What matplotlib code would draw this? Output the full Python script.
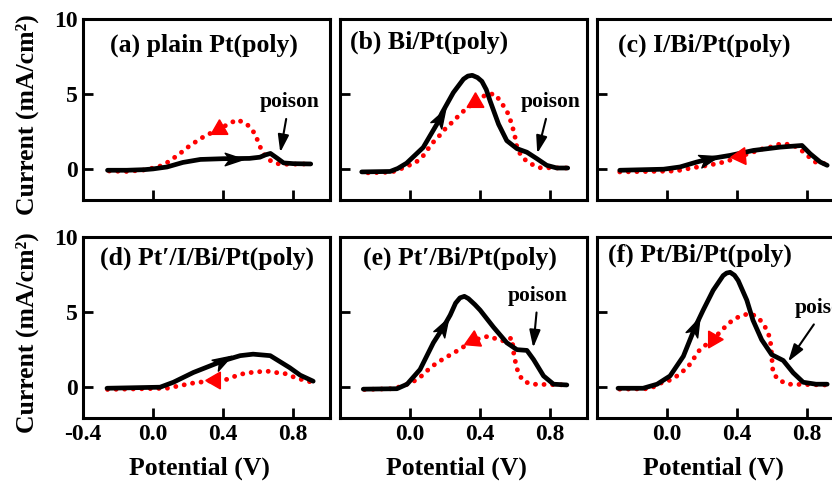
import numpy as np
import matplotlib
matplotlib.use('Agg')
import matplotlib.pyplot as plt
from matplotlib.path import Path

plt.rcParams['font.family'] = ['Liberation Serif', 'DejaVu Serif']
plt.rcParams['font.weight'] = 'bold'

# ---- data (potential in V, current in mA/cm2) ----
titles = ['(a) plain Pt(poly)', '(b) Bi/Pt(poly)', '(c) I/Bi/Pt(poly)',
          "(d) Pt\u2032/I/Bi/Pt(poly)", "(e) Pt\u2032/Bi/Pt(poly)", '(f) Pt/Bi/Pt(poly)']

fwd_a_v = [-0.26, -0.15, -0.05, 0.0, 0.08, 0.17, 0.27, 0.4, 0.55, 0.61, 0.64, 0.67, 0.71, 0.745, 0.8, 0.9]
fwd_a_i = [-0.07, -0.07, -0.03, 0.02, 0.15, 0.45, 0.65, 0.7, 0.72, 0.8, 0.95, 1.05, 0.72, 0.42, 0.37, 0.35]
rev_a_v = [-0.25, -0.15, -0.05, 0.0, 0.057, 0.107, 0.154, 0.211, 0.28, 0.337, 0.38, 0.43, 0.48, 0.536, 0.583, 0.6, 0.62, 0.65, 0.7, 0.754, 0.9]
rev_a_i = [-0.12, -0.15, -0.05, 0.08, 0.26, 0.65, 1.05, 1.58, 2.1, 2.45, 2.7, 3.0, 3.3, 3.0, 2.35, 1.8, 1.25, 0.7, 0.38, 0.33, 0.35]

fwd_b_v = [-0.276, -0.114, -0.07, -0.02, 0.075, 0.153, 0.18, 0.247, 0.305, 0.33, 0.355, 0.385, 0.41, 0.435, 0.457, 0.505, 0.552, 0.61, 0.667, 0.724, 0.78, 0.838, 0.9]
fwd_b_i = [-0.18, -0.15, 0.05, 0.4, 1.45, 3.0, 3.7, 5.1, 6.0, 6.2, 6.25, 6.1, 5.85, 5.3, 4.54, 3.0, 1.9, 1.37, 1.13, 0.7, 0.26, 0.08, 0.08]
rev_b_v = [-0.24, -0.114, -0.075, -0.03, 0.03, 0.077, 0.124, 0.16, 0.2, 0.247, 0.295, 0.362, 0.438, 0.486, 0.514, 0.552, 0.581, 0.6, 0.61, 0.638, 0.686, 0.743, 0.9]
rev_b_i = [-0.24, -0.2, -0.1, 0.15, 0.42, 0.92, 1.7, 2.13, 2.68, 3.2, 3.77, 4.4, 5.0, 5.0, 4.54, 3.9, 3.0, 2.1, 1.45, 0.8, 0.37, 0.1, 0.08]

fwd_c_v = [-0.27, -0.02, 0.074, 0.17, 0.246, 0.36, 0.493, 0.646, 0.77, 0.817, 0.874, 0.914]
fwd_c_i = [-0.07, 0.0, 0.15, 0.48, 0.7, 0.92, 1.25, 1.47, 1.58, 1.03, 0.48, 0.26]
rev_c_v = [-0.27, 0.05, 0.15, 0.206, 0.284, 0.34, 0.417, 0.494, 0.543, 0.6, 0.646, 0.703, 0.75, 0.8, 0.846, 0.9]
rev_c_i = [-0.18, -0.12, 0.1, 0.2, 0.37, 0.52, 0.85, 1.15, 1.35, 1.5, 1.69, 1.65, 1.43, 0.92, 0.48, 0.37]

fwd_d_v = [-0.263, 0.04, 0.116, 0.23, 0.343, 0.4, 0.497, 0.571, 0.669, 0.78, 0.84, 0.914]
fwd_d_i = [-0.07, 0.0, 0.33, 0.98, 1.5, 1.76, 2.1, 2.2, 2.1, 1.3, 0.8, 0.4]
rev_d_v = [-0.26, 0.08, 0.165, 0.22, 0.326, 0.42, 0.497, 0.571, 0.65, 0.706, 0.754, 0.82, 0.9]
rev_d_i = [-0.15, -0.07, 0.13, 0.26, 0.42, 0.52, 0.86, 1.0, 1.07, 0.97, 0.9, 0.6, 0.35]

fwd_e_v = [-0.267, -0.075, -0.017, 0.057, 0.133, 0.19, 0.229, 0.26, 0.285, 0.31, 0.333, 0.37, 0.4, 0.476, 0.552, 0.61, 0.667, 0.705, 0.762, 0.819, 0.895]
fwd_e_i = [-0.13, -0.1, 0.2, 1.18, 2.96, 4.0, 4.8, 5.6, 5.95, 6.05, 5.9, 5.5, 5.13, 4.0, 2.96, 2.5, 2.45, 1.84, 0.75, 0.2, 0.15]
rev_e_v = [-0.26, -0.097, -0.046, 0.012, 0.057, 0.105, 0.152, 0.2, 0.248, 0.295, 0.352, 0.448, 0.495, 0.543, 0.581, 0.587, 0.594, 0.605, 0.617, 0.645, 0.693, 0.9]
rev_e_i = [-0.15, -0.1, 0.07, 0.33, 0.66, 1.18, 1.62, 1.95, 2.28, 2.6, 3.1, 3.4, 3.2, 3.05, 3.3, 2.72, 2.06, 1.51, 0.96, 0.42, 0.2, 0.15]

fwd_f_v = [-0.28, -0.137, -0.057, 0.017, 0.093, 0.16, 0.206, 0.263, 0.32, 0.34, 0.36, 0.385, 0.406, 0.455, 0.49, 0.54, 0.597, 0.663, 0.72, 0.777, 0.85, 0.914]
fwd_f_i = [-0.07, -0.07, 0.2, 0.75, 2.06, 4.0, 5.13, 6.45, 7.43, 7.6, 7.65, 7.45, 7.1, 5.8, 4.47, 3.16, 2.17, 1.78, 0.96, 0.33, 0.2, 0.2]
rev_f_v = [-0.27, -0.097, -0.04, 0.007, 0.063, 0.12, 0.187, 0.263, 0.33, 0.377, 0.43, 0.48, 0.525, 0.56, 0.584, 0.594, 0.6, 0.605, 0.636, 0.692, 0.9]
rev_f_i = [-0.13, -0.1, 0.26, 0.42, 0.79, 1.36, 2.5, 3.2, 4.0, 4.5, 4.8, 4.9, 4.58, 4.0, 3.38, 2.72, 1.62, 0.96, 0.48, 0.2, 0.15]

fwd = [(fwd_a_v, fwd_a_i), (fwd_b_v, fwd_b_i), (fwd_c_v, fwd_c_i),
       (fwd_d_v, fwd_d_i), (fwd_e_v, fwd_e_i), (fwd_f_v, fwd_f_i)]
rev = [(rev_a_v, rev_a_i), (rev_b_v, rev_b_i), (rev_c_v, rev_c_i),
       (rev_d_v, rev_d_i), (rev_e_v, rev_e_i), (rev_f_v, rev_f_i)]

# where the scan-direction arrowheads sit (potential) and which way they point (deg)
fwd_arrow_v = [0.457, 0.17, 0.234, 0.394, 0.19, 0.16]
fwd_arrow_ang = [0, 60, 15, 30, 60, 65]
rev_arrow_v = [0.377, 0.371, 0.417, 0.354, 0.36, 0.263]
rev_arrow_rot = [0, 0, 95, 90, -5, -90]

# "poison" labels: (panel, text V, text I, arrow tip V, arrow tip I, ha)
poison = [(0, 0.777, 4.47, 0.726, 1.12, 'center'),
          (1, 0.80, 4.47, 0.726, 1.05, 'center'),
          (4, 0.731, 6.1, 0.703, 2.63, 'center'),
          (5, 0.731, 5.26, 0.691, 1.7, 'left')]


def arrow_marker(ang):
    pts = np.array([[1.0, 0.0], [-0.8, 0.6], [-0.35, 0.0], [-0.8, -0.6], [1.0, 0.0]])
    t = np.deg2rad(ang)
    rot = np.array([[np.cos(t), -np.sin(t)], [np.sin(t), np.cos(t)]])
    pts = pts @ rot.T
    return Path(pts, [Path.MOVETO, Path.LINETO, Path.LINETO, Path.LINETO, Path.CLOSEPOLY])


fig = plt.figure(figsize=(8.32, 4.82), dpi=100)
W, H = 832., 482.
lefts = [83, 340, 597]
tops = [19, 237]
aw, ah = 247, 181

# title anchor (left edge, centre height) in axes fraction
title_xy = [(0.109, 0.856), (0.04, 0.873), (0.085, 0.856),
            (0.069, 0.884), (0.093, 0.884), (0.045, 0.90)]

axs = []
for r in range(2):
    for c in range(3):
        ax = fig.add_axes([lefts[c] / W, 1 - (tops[r] + ah) / H, aw / W, ah / H])
        axs.append(ax)

for k, ax in enumerate(axs):
    fv, fi = fwd[k]
    rv, ri = rev[k]
    ax.plot(rv, ri, color='red', lw=3.5, linestyle=(0, (0.01, 1.75)),
            dash_capstyle='round', zorder=2)
    ax.plot(fv, fi, color='black', lw=3.4, solid_capstyle='round',
            solid_joinstyle='round', zorder=3)

    xa = fwd_arrow_v[k]
    ax.plot(xa, np.interp(xa, fv, fi), marker=arrow_marker(fwd_arrow_ang[k]),
            ms=15, color='black', mec='black', zorder=4)
    xr = rev_arrow_v[k]
    ax.plot(xr, np.interp(xr, rv, ri), marker=(3, 0, rev_arrow_rot[k]),
            ms=14, color='red', mec='red', zorder=4)

    ax.set_xlim(-0.4, 1.01)
    ax.set_ylim(-2.05, 10)
    ax.set_yticks([0, 5, 10])
    for s in ax.spines.values():
        s.set_linewidth(2.2)
    ax.tick_params(direction='in', length=7, width=2, labelsize=17, pad=4,
                   top=False, right=False)
    for lab in ax.get_xticklabels() + ax.get_yticklabels():
        lab.set_fontweight('bold')

    tx, ty = title_xy[k]
    ax.text(tx, ty, titles[k], transform=ax.transAxes, ha='left', va='center',
            fontsize=18.5, fontweight='bold')

    row, col = divmod(k, 3)
    if k == 3:
        ax.set_xticks([-0.4, 0.0, 0.4, 0.8])
        ax.set_xticklabels(['-0.4', '0.0', '0.4', '0.8'])
    else:
        ax.set_xticks([0.0, 0.4, 0.8])
        ax.set_xticklabels(['0.0', '0.4', '0.8'])
    if row == 0:
        ax.tick_params(labelbottom=False)
    else:
        ax.set_xlabel('Potential (V)', fontsize=18.5, fontweight='bold')
        ax.xaxis.set_label_coords(0.47, -0.215)
    if col == 0:
        ax.set_ylabel('Current (mA/cm\u00b2)', fontsize=18.5, fontweight='bold')
        ax.yaxis.set_label_coords(-0.18, 0.47)
    else:
        ax.tick_params(labelleft=False)

for k, tv, ti, pv, pi, ha in poison:
    axs[k].annotate('poison', xy=(pv, pi), xytext=(tv, ti), ha=ha, va='center',
                    fontsize=15.5, fontweight='bold',
                    arrowprops=dict(arrowstyle='-|>,head_length=0.7,head_width=0.22',
                                    lw=1.5, color='black', shrinkA=3, shrinkB=0,
                                    mutation_scale=15))

fig.savefig('out.png', dpi=100)
